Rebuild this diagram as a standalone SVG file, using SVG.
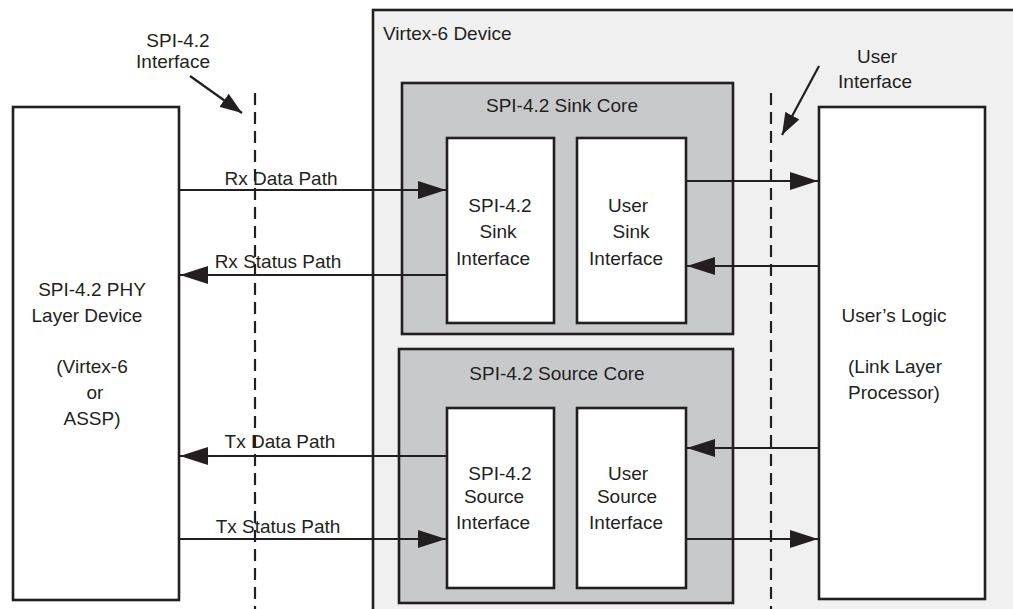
<svg xmlns="http://www.w3.org/2000/svg" width="1013" height="609" viewBox="0 0 1013 609">
<defs>
<style>
.box{fill:#fff;stroke:#231f20;stroke-width:2.6}
.dev{fill:#f0f0f0;stroke:#231f20;stroke-width:2.6}
.core{fill:#c8c9cb;stroke:#231f20;stroke-width:2.6}
.ln{stroke:#231f20;stroke-width:2.2;fill:none}
.dash{stroke:#231f20;stroke-width:2.2;fill:none;stroke-dasharray:12 7}
text{font-family:"Liberation Sans",Arial,sans-serif;fill:#231f20;font-size:19px;text-anchor:middle}
.st{text-anchor:start}
</style>
<marker id="ah" markerUnits="userSpaceOnUse" markerWidth="28" markerHeight="18" refX="28" refY="9" orient="auto">
<path d="M0,0 L28,9 L0,18 z" fill="#231f20"/>
</marker>
<marker id="ahs" markerUnits="userSpaceOnUse" markerWidth="22" markerHeight="16" refX="22" refY="8" orient="auto">
<path d="M0,0 L22,8 L0,16 z" fill="#231f20"/>
</marker>
</defs>
<rect width="1013" height="609" fill="#fff"/>

<g id="virtex">
<rect class="dev" x="373" y="10" width="700" height="700"/>
<text class="st" x="383" y="40">Virtex-6 Device</text>
</g>

<g id="phy">
<rect class="box" x="13" y="107" width="166" height="493"/>
<text x="92" y="296">SPI-4.2 PHY</text>
<text x="87" y="322">Layer Device</text>
<text x="92" y="373">(Virtex-6</text>
<text x="95" y="399">or</text>
<text x="92" y="425">ASSP)</text>
</g>

<g id="sink-core">
<rect class="core" x="402" y="83" width="331" height="251"/>
<text x="562" y="112">SPI-4.2 Sink Core</text>
</g>
<g id="sink-if">
<rect class="box" x="447" y="138" width="107" height="185"/>
<text x="500" y="212">SPI-4.2</text>
<text x="498" y="238">Sink</text>
<text x="493" y="265">Interface</text>
</g>
<g id="user-sink-if">
<rect class="box" x="577" y="138" width="109" height="185"/>
<text x="628" y="212">User</text>
<text x="631" y="238">Sink</text>
<text x="626" y="265">Interface</text>
</g>

<g id="source-core">
<rect class="core" x="399" y="349" width="334" height="254"/>
<text x="557" y="380">SPI-4.2 Source Core</text>
</g>
<g id="source-if">
<rect class="box" x="447" y="408" width="107" height="180"/>
<text x="500" y="480">SPI-4.2</text>
<text x="494" y="503">Source</text>
<text x="493" y="529">Interface</text>
</g>
<g id="user-source-if">
<rect class="box" x="577" y="408" width="109" height="180"/>
<text x="628" y="480">User</text>
<text x="627" y="503">Source</text>
<text x="626" y="529">Interface</text>
</g>

<g id="users-logic">
<rect class="box" x="819" y="107" width="166" height="492"/>
<text x="894" y="322">User’s Logic</text>
<text x="895" y="373">(Link Layer</text>
<text x="894" y="399">Processor)</text>
</g>

<g id="spi-interface-label">
<text x="178" y="47">SPI-4.2</text>
<text x="173" y="68">Interface</text>
</g>
<g id="user-interface-label">
<text x="877" y="63">User</text>
<text x="875" y="88">Interface</text>
</g>

<g id="connectors">
<line class="dash" x1="255" y1="93" x2="255" y2="609"/>
<line class="dash" x1="771" y1="93" x2="771" y2="609"/>
<line class="ln" x1="190" y1="76" x2="242" y2="113" marker-end="url(#ahs)"/>
<line class="ln" x1="819" y1="66" x2="782" y2="135" marker-end="url(#ahs)"/>

<line class="ln" x1="179" y1="190" x2="446" y2="190" marker-end="url(#ah)"/>
<line class="ln" x1="447" y1="275" x2="180" y2="275" marker-end="url(#ah)"/>
<line class="ln" x1="447" y1="456" x2="180" y2="456" marker-end="url(#ah)"/>
<line class="ln" x1="179" y1="539" x2="446" y2="539" marker-end="url(#ah)"/>

<line class="ln" x1="686" y1="181" x2="818" y2="181" marker-end="url(#ah)"/>
<line class="ln" x1="819" y1="266" x2="687" y2="266" marker-end="url(#ah)"/>
<line class="ln" x1="819" y1="448" x2="687" y2="448" marker-end="url(#ah)"/>
<line class="ln" x1="686" y1="539" x2="818" y2="539" marker-end="url(#ah)"/>

<text x="281" y="185">Rx Data Path</text>
<text x="278" y="268">Rx Status Path</text>
<text x="280" y="448">Tx Data Path</text>
<text x="278" y="533">Tx Status Path</text>
</g>
</svg>
